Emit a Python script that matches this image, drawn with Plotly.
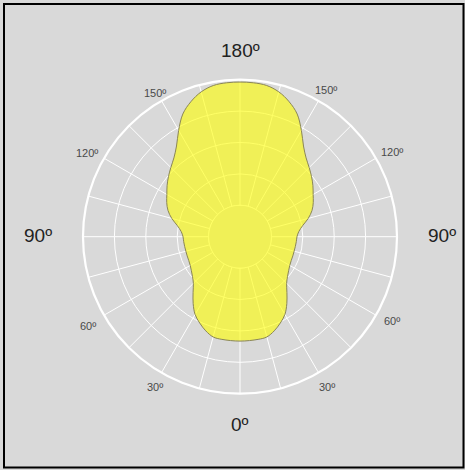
import plotly.graph_objects as go
import numpy as np

# Light distribution (relative intensity), symmetric about the vertical axis
angles_deg = [0, 10, 15, 20, 25, 30, 35, 40, 45, 50, 55, 60, 65, 70, 75, 80, 85, 90,
              95, 100, 105, 110, 115, 120, 125, 130, 135, 140, 145, 150, 155, 160,
              165, 170, 175, 180]
intensity = [0.665, 0.664, 0.661, 0.638, 0.607, 0.572, 0.52, 0.465, 0.42, 0.395, 0.378,
             0.366, 0.36, 0.358, 0.357, 0.358, 0.36, 0.363, 0.376, 0.405, 0.45, 0.488,
             0.515, 0.538, 0.567, 0.595, 0.623, 0.655, 0.705, 0.782, 0.862, 0.915,
             0.955, 0.978, 0.984, 0.985]

ring_values = [0.2, 0.4, 0.6, 0.8, 1.0]
spoke_angles = list(range(0, 360, 15))

big_labels = ["180º", "0º", "90º", "90º"]
small_labels = ["150º", "150º", "120º", "120º", "60º", "60º", "30º", "30º"]

BG = "#d9d9d9"

# full closed curve: right side 0->180, left side 180->360
theta_full = angles_deg + [360 - a for a in reversed(angles_deg[:-1])]
r_full = intensity + list(reversed(intensity[:-1]))

fig = go.Figure()

# inner disc (no spokes in the centre)
circ_t = list(np.linspace(0, 360, 181))
fig.add_trace(go.Scatterpolar(
    r=[ring_values[0]] * len(circ_t), theta=circ_t, mode="lines",
    fill="toself", fillcolor=BG, line=dict(color="white", width=1),
    hoverinfo="skip", showlegend=False))

fig.add_trace(go.Scatterpolar(
    r=r_full, theta=theta_full, mode="lines", fill="toself",
    fillcolor="rgba(255,255,0,0.6)", line=dict(color="#8a8655", width=1, shape="spline"),
    showlegend=False))

fig.update_layout(
    width=465, height=470,
    margin=dict(l=0, r=0, t=0, b=0),
    paper_bgcolor=BG,
    showlegend=False,
    polar=dict(
        domain=dict(x=[83 / 465, 397 / 465], y=[76.3 / 470, 390.3 / 470]),
        bgcolor=BG,
        radialaxis=dict(range=[0, 1], tickvals=ring_values, showticklabels=False,
                        ticks="", showline=False, gridcolor="white", gridwidth=1.3),
        angularaxis=dict(rotation=270, direction="counterclockwise",
                         tickvals=spoke_angles, showticklabels=False, ticks="",
                         showline=True, linecolor="white", linewidth=2.2,
                         gridcolor="white", gridwidth=1.3),
    ),
)

W, H = 465, 470
def px(x, y):
    return x / W, 1 - y / H

big_pos = [(240, 50), (240, 424), (38, 236), (442, 236)]
for txt, (x, y) in zip(big_labels, big_pos):
    ax, ay = px(x, y)
    fig.add_annotation(x=ax, y=ay, xref="paper", yref="paper", text=txt, showarrow=False,
                       xanchor="center", yanchor="middle",
                       font=dict(family="Liberation Sans, Arial", size=19, color="#222222"))

small_pos = [(155, 93), (326, 90), (87, 153), (392, 152), (88, 326), (392, 321),
             (155, 387), (327, 387)]
for txt, (x, y) in zip(small_labels, small_pos):
    ax, ay = px(x, y)
    fig.add_annotation(x=ax, y=ay, xref="paper", yref="paper", text=txt, showarrow=False,
                       xanchor="center", yanchor="middle",
                       font=dict(family="Liberation Sans, Arial", size=11, color="#4a4a4a"))

fig.add_shape(type="rect", xref="paper", yref="paper",
              x0=4 / W, x1=463.5 / W, y0=1 - 467.5 / H, y1=1 - 4 / H,
              line=dict(color="black", width=2))

fig.write_html("out.html", config={"displayModeBar": False},
               post_script="document.body.style.margin='0';document.body.style.overflow='hidden';")
